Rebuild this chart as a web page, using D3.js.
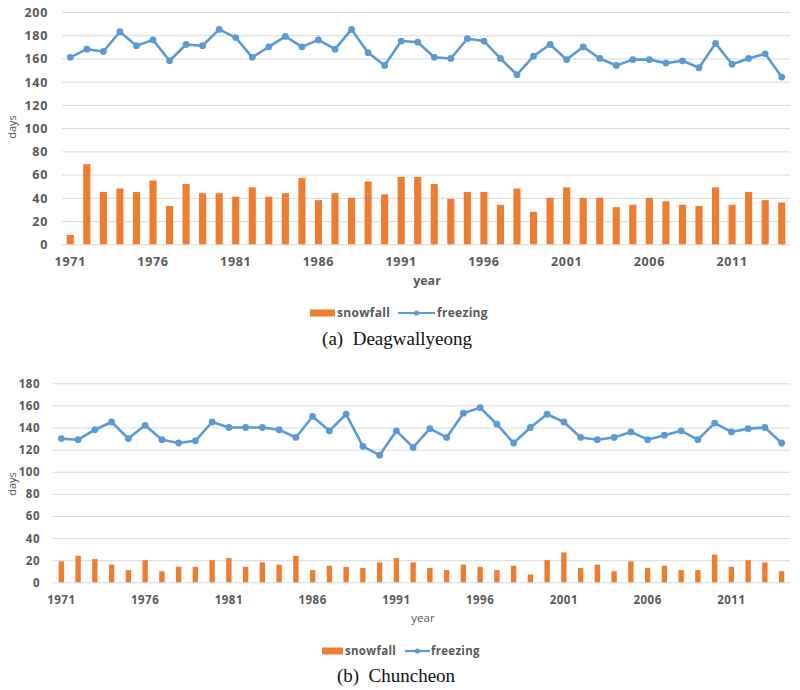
<!DOCTYPE html>
<html>
<head>
<meta charset="utf-8">
<script src="https://cdn.jsdelivr.net/npm/d3@7"></script>
<style>
  body { margin: 0; background: #fff; }
  svg { display: block; }
</style>
</head>
<body>
<svg id="chart" width="800" height="690"></svg>
<script>
// ---------- DATA ----------
const years = [1971,1972,1973,1974,1975,1976,1977,1978,1979,1980,
               1981,1982,1983,1984,1985,1986,1987,1988,1989,1990,
               1991,1992,1993,1994,1995,1996,1997,1998,1999,2000,
               2001,2002,2003,2004,2005,2006,2007,2008,2009,2010,
               2011,2012,2013,2014];
const xTickLabels = [1971,1976,1981,1986,1991,1996,2001,2006,2011];

// (a) Deagwallyeong
const daeSnowfall = [8,69,45,48,45,55,33,52,44,44,
                     41,49,41,44,57,38,44,40,54,43,
                     58,58,52,39,45,45,34,48,28,40,
                     49,40,40,32,34,40,37,34,33,49,
                     34,45,38,36];
const daeFreezing = [161,168,166,183,171,176,158,172,171,185,
                     178,161,170,179,170,176,168,185,165,154,
                     175,174,161,160,177,175,160,146,162,172,
                     159,170,160,154,159,159,156,158,152,173,
                     155,160,164,144];
const daeYTicks = [0,20,40,60,80,100,120,140,160,180,200];

// (b) Chuncheon
const chuSnowfall = [19,24,21,16,11,20,10,14,14,20,
                     22,14,18,16,24,11,15,14,13,18,
                     22,18,13,11,16,14,11,15,7,20,
                     27,13,16,10,19,13,15,11,11,25,
                     14,20,18,10];
const chuFreezing = [130,129,138,145,130,142,129,126,128,145,
                     140,140,140,138,131,150,137,152,123,115,
                     137,122,139,131,153,158,143,126,140,152,
                     145,131,129,131,136,129,133,137,129,144,
                     136,139,140,126];
const chuYTicks = [0,20,40,60,80,100,120,140,160,180];

const seriesNames = ["snowfall", "freezing"];
const captions = ["(a)\u00a0\u00a0Deagwallyeong", "(b)\u00a0\u00a0Chuncheon"];

// ---------- STYLE ----------
const ORANGE = "#ED7D31";
const BLUE = "#5B9BD5";
const GRID = "#D9D9D9";
const TEXT = "#595959";
const SANS = "'Open Sans', 'Noto Sans', sans-serif";
const SERIF = "'Liberation Serif', 'DejaVu Serif', serif";

const svg = d3.select("#chart");

function drawPanel(p) {
  const g = svg.append("g");
  const x = d3.scaleBand().domain(p.years).range([p.left, p.right]).paddingInner(p.barPad).paddingOuter(p.barPad / 2);
  const xc = d => x(d) + x.bandwidth() / 2;
  const y = d3.scaleLinear().domain([0, p.yMax]).range([p.bottom, p.top]);

  // gridlines
  g.append("g").selectAll("line").data(p.yTicks).join("line")
    .attr("x1", p.left).attr("x2", p.right)
    .attr("y1", d => y(d) + 0.5).attr("y2", d => y(d) + 0.5)
    .attr("stroke", GRID).attr("stroke-width", 1);

  // y axis labels
  const yAxis = d3.axisLeft(y).tickValues(p.yTicks).tickSize(0).tickPadding(0);
  const ya = g.append("g").attr("transform", `translate(${p.yLabelX},0)`).call(yAxis);
  ya.select(".domain").remove();
  ya.selectAll("text").attr("font-family", SANS).attr("font-size", p.tickSize)
    .attr("font-weight", p.tickWeight).attr("fill", TEXT).attr("dy", "0.35em")
    .attr("letter-spacing", p.tickSpacing);

  // x axis labels
  const xAxis = d3.axisBottom(x).tickValues(p.xTicks).tickSize(0).tickPadding(0);
  const xa = g.append("g").attr("transform", `translate(0,${p.xLabelY})`).call(xAxis);
  xa.select(".domain").remove();
  xa.selectAll("text").attr("font-family", SANS).attr("font-size", p.tickSize)
    .attr("font-weight", p.tickWeight).attr("fill", TEXT).attr("dy", "0.35em")
    .attr("letter-spacing", p.tickSpacing);

  // bars
  g.append("g").selectAll("rect").data(p.snow).join("rect")
    .attr("x", (d, i) => x(p.years[i]))
    .attr("width", x.bandwidth())
    .attr("y", d => y(d))
    .attr("height", d => y(0) - y(d))
    .attr("fill", ORANGE);

  // line
  const line = d3.line().x((d, i) => xc(p.years[i])).y(d => y(d));
  g.append("path").datum(p.freeze).attr("d", line)
    .attr("fill", "none").attr("stroke", BLUE).attr("stroke-width", 2.6)
    .attr("stroke-linejoin", "round");
  g.append("g").selectAll("circle").data(p.freeze).join("circle")
    .attr("cx", (d, i) => xc(p.years[i])).attr("cy", d => y(d))
    .attr("r", 3.4).attr("fill", BLUE);

  // axis titles
  g.append("text").attr("transform", `translate(${p.daysX},${p.daysY}) rotate(-90)`)
    .attr("text-anchor", "middle").attr("dy", "0.35em")
    .attr("font-family", SANS).attr("font-size", 11).attr("fill", TEXT).text("days");
  g.append("text").attr("x", p.yearX).attr("y", p.yearY).attr("dy", "0.35em")
    .attr("text-anchor", "middle").attr("font-family", SANS).attr("font-size", p.tickSize)
    .attr("font-weight", p.yearWeight).attr("fill", TEXT).text("year");

  // legend
  const lg = g.append("g");
  lg.append("rect").attr("x", p.lg.sw0).attr("y", p.legendY - 3.5)
    .attr("width", p.lg.sw1 - p.lg.sw0).attr("height", 7).attr("fill", ORANGE);
  lg.append("text").attr("x", p.lg.t1).attr("y", p.legendY).attr("dy", "0.35em")
    .attr("font-family", SANS).attr("font-size", p.legendSize).attr("font-weight", 700)
    .attr("letter-spacing", 0.3).attr("fill", TEXT).text(seriesNames[0]);
  lg.append("line").attr("x1", p.lg.l0).attr("x2", p.lg.l1)
    .attr("y1", p.legendY).attr("y2", p.legendY)
    .attr("stroke", BLUE).attr("stroke-width", 2.2);
  lg.append("circle").attr("cx", (p.lg.l0 + p.lg.l1) / 2).attr("cy", p.legendY)
    .attr("r", 2.6).attr("fill", BLUE);
  lg.append("text").attr("x", p.lg.t2).attr("y", p.legendY).attr("dy", "0.35em")
    .attr("font-family", SANS).attr("font-size", p.legendSize).attr("font-weight", 700)
    .attr("letter-spacing", 0.3).attr("fill", TEXT).text(seriesNames[1]);

  // caption
  g.append("text").attr("x", p.capX).attr("y", p.capY).attr("dy", "0.35em")
    .attr("text-anchor", "middle").attr("font-family", SERIF).attr("font-size", 19)
    .attr("fill", "#111").text(p.caption);
}

drawPanel({
  years: years, xTicks: xTickLabels, snow: daeSnowfall, freeze: daeFreezing,
  yTicks: daeYTicks, yMax: 200,
  left: 62, right: 790, top: 12, bottom: 244.3, barPad: 0.57,
  yLabelX: 48, xLabelY: 262, tickSize: 12.5, tickWeight: 700, tickSpacing: 0.7,
  daysX: 12, daysY: 127, yearX: 427, yearY: 281, yearWeight: 700,
  legendY: 313, legendSize: 12,
  lg: { sw0: 310, sw1: 335, t1: 337, l0: 398, l1: 435, t2: 437 },
  capX: 397, capY: 338, caption: captions[0]
});

drawPanel({
  years: years, xTicks: xTickLabels, snow: chuSnowfall, freeze: chuFreezing,
  yTicks: chuYTicks, yMax: 180,
  left: 53, right: 790, top: 383.3, bottom: 582.3, barPad: 0.68,
  yLabelX: 40, xLabelY: 600, tickSize: 11.5, tickWeight: 700, tickSpacing: 0.5,
  daysX: 12, daysY: 484, yearX: 423, yearY: 618, yearWeight: 400,
  legendY: 651, legendSize: 11.5,
  lg: { sw0: 322, sw1: 343, t1: 345, l0: 405, l1: 430, t2: 431 },
  capX: 396, capY: 675, caption: captions[1]
});
</script>
</body>
</html>
